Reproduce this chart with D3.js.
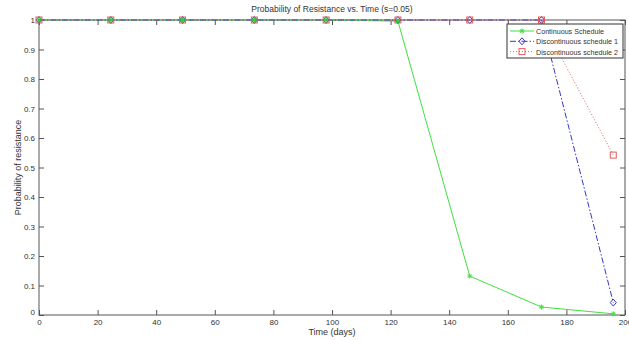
<!DOCTYPE html>
<html>
<head>
<meta charset="utf-8">
<script src="https://cdn.jsdelivr.net/npm/d3@7"></script>
<style>
  body { margin: 0; background: #fff; }
  svg { display: block; font-family: "Liberation Sans", Arial, sans-serif; }
</style>
</head>
<body>
<div id="chart"></div>
<script>
// time points (days)
const days = [0, 24.5, 49, 73.5, 98, 122.5, 147, 171.5, 196];
const continuous = [1, 1, 1, 1, 1, 0.996, 0.132, 0.027, 0.004];
const discont1 = [1, 1, 1, 1, 1, 1, 1, 1, 0.042];
const discont2 = [1, 1, 1, 1, 1, 1, 1, 1, 0.542];
const xTicks = [0, 20, 40, 60, 80, 100, 120, 140, 160, 180, 200];
const yTicks = [0, 0.1, 0.2, 0.3, 0.4, 0.5, 0.6, 0.7, 0.8, 0.9, 1];
const seriesNames = ["Continuous Schedule", "Discontinuous schedule 1", "Discontinuous schedule 2"];

const width = 629;
const height = 341;
const margin = { top: 20, right: 4, bottom: 26, left: 39 };

const svg = d3.select("#chart").append("svg")
  .attr("width", width)
  .attr("height", height);

const x = d3.scaleLinear().domain([0, 200]).range([margin.left, width - margin.right]);
const y = d3.scaleLinear().domain([0, 1]).range([height - margin.bottom, margin.top]);

const axisColor = "#555";
const tickLen = 5;

// box
svg.append("rect")
  .attr("x", x(0)).attr("y", y(1))
  .attr("width", x(200) - x(0)).attr("height", y(0) - y(1))
  .attr("fill", "none").attr("stroke", axisColor).attr("stroke-width", 1);
svg.append("line")
  .attr("x1", x(0)).attr("x2", x(0)).attr("y1", y(0)).attr("y2", y(1))
  .attr("stroke", "#aaa").attr("stroke-width", 2);

// axes
const xBottom = svg.append("g")
  .attr("transform", `translate(0,${y(0)})`)
  .call(d3.axisBottom(x).tickValues(xTicks).tickSizeInner(-tickLen).tickSizeOuter(0).tickPadding(4));
const xTop = svg.append("g")
  .attr("transform", `translate(0,${y(1)})`)
  .call(d3.axisTop(x).tickValues(xTicks).tickSizeInner(-tickLen).tickSizeOuter(0).tickFormat(""));
const yLeft = svg.append("g")
  .attr("transform", `translate(${x(0)},0)`)
  .call(d3.axisLeft(y).tickValues(yTicks).tickSizeInner(-tickLen).tickSizeOuter(0).tickPadding(4)
    .tickFormat(d => d === 0 || d === 1 ? String(d) : d3.format(".1f")(d)));
const yRight = svg.append("g")
  .attr("transform", `translate(${x(200)},0)`)
  .call(d3.axisRight(y).tickValues(yTicks).tickSizeInner(-tickLen).tickSizeOuter(0).tickFormat(""));

[xBottom, xTop, yLeft, yRight].forEach(g => {
  g.select(".domain").remove();
  g.selectAll(".tick line").attr("stroke", axisColor);
  g.selectAll("text").attr("fill", "#333").attr("font-size", 8);
});
yLeft.selectAll(".tick").filter(d => d === 0).select("text").attr("dy", "-0.05em");

// labels
svg.append("text")
  .attr("x", (x(0) + x(200)) / 2).attr("y", 12)
  .attr("text-anchor", "middle").attr("font-size", 8.5).attr("fill", "#333")
  .text("Probability of Resistance vs. Time (s=0.05)");
svg.append("text")
  .attr("x", (x(0) + x(200)) / 2).attr("y", 335)
  .attr("text-anchor", "middle").attr("font-size", 9).attr("fill", "#333")
  .text("Time (days)");
svg.append("text")
  .attr("transform", `translate(21,${(y(0) + y(1)) / 2}) rotate(-90)`)
  .attr("text-anchor", "middle").attr("font-size", 9).attr("fill", "#333")
  .text("Probability of resistance");

const series = [
  { name: seriesNames[0], values: continuous, color: "#40e040", dash: null, marker: "star" },
  { name: seriesNames[1], values: discont1, color: "#3838c8", dash: "6,2,1.5,2", marker: "diamond" },
  { name: seriesNames[2], values: discont2, color: "#e06060", dash: "1,2", marker: "square" }
];

const line = d3.line().x(d => x(d[0])).y(d => y(d[1]));

function drawMarker(g, type, color, cx, cy) {
  if (type === "star") {
    g.append("path")
      .attr("d", `M${cx - 2.5},${cy}h5M${cx},${cy - 2.5}v5M${cx - 1.8},${cy - 1.8}l3.6,3.6M${cx - 1.8},${cy + 1.8}l3.6,-3.6`)
      .attr("stroke", color).attr("stroke-width", 1);
  } else if (type === "diamond") {
    g.append("path")
      .attr("d", `M${cx},${cy - 3.5}L${cx + 3},${cy}L${cx},${cy + 3.5}L${cx - 3},${cy}Z`)
      .attr("fill", "none").attr("stroke", color).attr("stroke-width", 1);
  } else {
    g.append("rect")
      .attr("x", cx - 3).attr("y", cy - 3).attr("width", 6).attr("height", 6)
      .attr("fill", "none").attr("stroke", color).attr("stroke-width", 1);
  }
}

const plot = svg.append("g");
series.forEach(s => {
  const pts = days.map((d, i) => [d, s.values[i]]);
  plot.append("path")
    .attr("d", line(pts))
    .attr("fill", "none")
    .attr("stroke", s.color)
    .attr("stroke-width", 1)
    .attr("stroke-dasharray", s.dash);
});
series.forEach(s => {
  days.forEach((d, i) => drawMarker(plot, s.marker, s.color, x(d), y(s.values[i])));
});
// green stars show through the squares at the top
days.forEach((d, i) => {
  if (continuous[i] > 0.99) drawMarker(plot, "star", "#33cc33", x(d), y(continuous[i]));
});

// legend
const lx = 507, ly = 24, lw = 116, lh = 34;
const legend = svg.append("g");
legend.append("rect")
  .attr("x", lx).attr("y", ly).attr("width", lw).attr("height", lh)
  .attr("fill", "#fff").attr("stroke", "#333").attr("stroke-width", 1);
series.forEach((s, i) => {
  const yy = ly + 7 + i * 10.3;
  legend.append("line")
    .attr("x1", lx + 3).attr("x2", lx + 27).attr("y1", yy).attr("y2", yy)
    .attr("stroke", s.color).attr("stroke-dasharray", s.dash);
  drawMarker(legend, s.marker, s.color, lx + 15, yy);
  const t = legend.append("text")
    .attr("x", lx + 29).attr("y", yy + 3)
    .attr("font-size", 8).attr("fill", "#333")
    .text(s.name);
  const w = t.node().getComputedTextLength();
  const maxW = i === 0 ? 68 : 82;
  if (w > maxW) t.attr("textLength", maxW).attr("lengthAdjust", "spacingAndGlyphs");
});
</script>
</body>
</html>
